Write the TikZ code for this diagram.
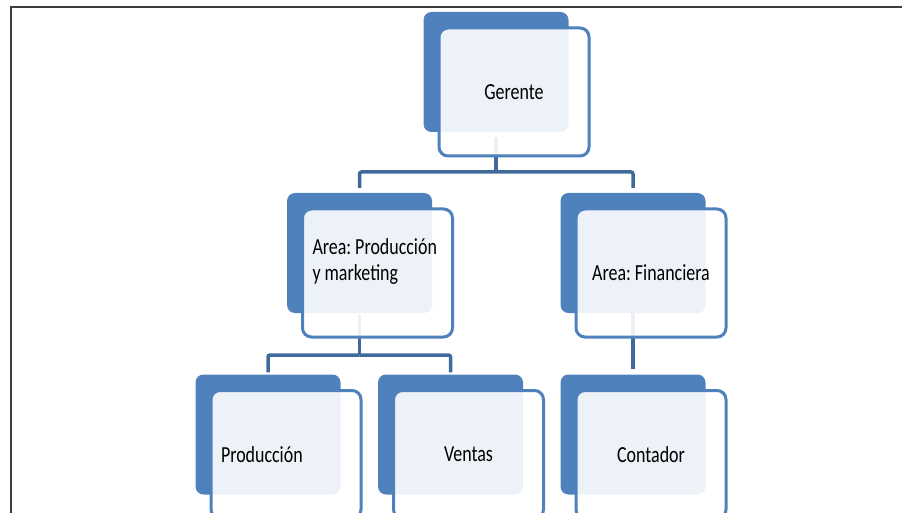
\documentclass[tikz,border=0pt]{standalone}
\usepackage{fontspec}
\setmainfont{Carlito}[FakeStretch=0.78]
\usepackage{tikz}
\usetikzlibrary{positioning}
\frenchspacing
\hyphenpenalty=10000
\newcommand{\tightspace}{\spaceskip=4pt\relax}

\definecolor{boxblue}{RGB}{79,129,189}
\definecolor{linkblue}{RGB}{64,106,156}
\definecolor{framegray}{RGB}{60,60,60}

\begin{document}
\begin{tikzpicture}[x=1pt,y=-1pt,font=\fontsize{23}{26}\selectfont,
  back/.style={fill=boxblue,rounded corners=8pt,minimum width=145pt,minimum height=120pt,inner sep=0pt},
  front/.style={draw=boxblue,line width=3pt,fill=white,fill opacity=0.9,text opacity=1,
    rounded corners=9pt,text width=130pt,inner sep=10pt,minimum height=128pt,align=center,
    execute at begin node=\tightspace},
  link/.style={draw=linkblue,line width=3.5pt,rounded corners=2pt}]
\clip (0,0) rectangle (902,513);
\useasboundingbox (0,0) rectangle (902,513);
% frame
\draw[framegray,line width=2pt] (11,520) -- (11,7) -- (910,7);
% back boxes
\node[back] (gerenteb) at (496,72) {};
\node[back] (prodmktb) at (359.5,253) {};
\node[back] (finb) at (633,253) {};
\node[back] (produccionb) at (268,434.5) {};
\node[back] (ventasb) at (450.5,434.5) {};
\node[back] (contadorb) at (633,434.5) {};
% connectors
\coordinate (bartop) at (496,172);
\coordinate (barmid) at (359.5,355);
\draw[link,shorten <=5pt] (gerenteb.south) -- (bartop);
\draw[link,shorten >=5pt] (bartop) -| (prodmktb.north);
\draw[link,shorten >=5pt] (bartop) -| (finb.north);
\draw[link,shorten <=2pt] (prodmktb.south) -- (barmid);
\draw[link,shorten >=2pt] (barmid) -| (produccionb.north);
\draw[link,shorten >=2pt] (barmid) -| (ventasb.north);
\draw[link,shorten >=5pt] (finb.south) -- (contadorb.north);
% front boxes
\node[front] (gerente) at ([shift={(18,20)}]gerenteb.center) {Gerente};
\node[front,align=left] (prodmkt) at ([shift={(18,20)}]prodmktb.center) {Area: Producción\\y marketing\\\mbox{}};
\node[front] (fin) at ([shift={(18,20)}]finb.center) {Area: Financiera};
\node[front,align=left] (produccion) at ([shift={(18,20)}]produccionb.center) {Producción};
\node[front] (ventas) at ([shift={(18,20)}]ventasb.center) {Ventas};
\node[front] (contador) at ([shift={(18,20)}]contadorb.center) {Contador};
\end{tikzpicture}
\end{document}
